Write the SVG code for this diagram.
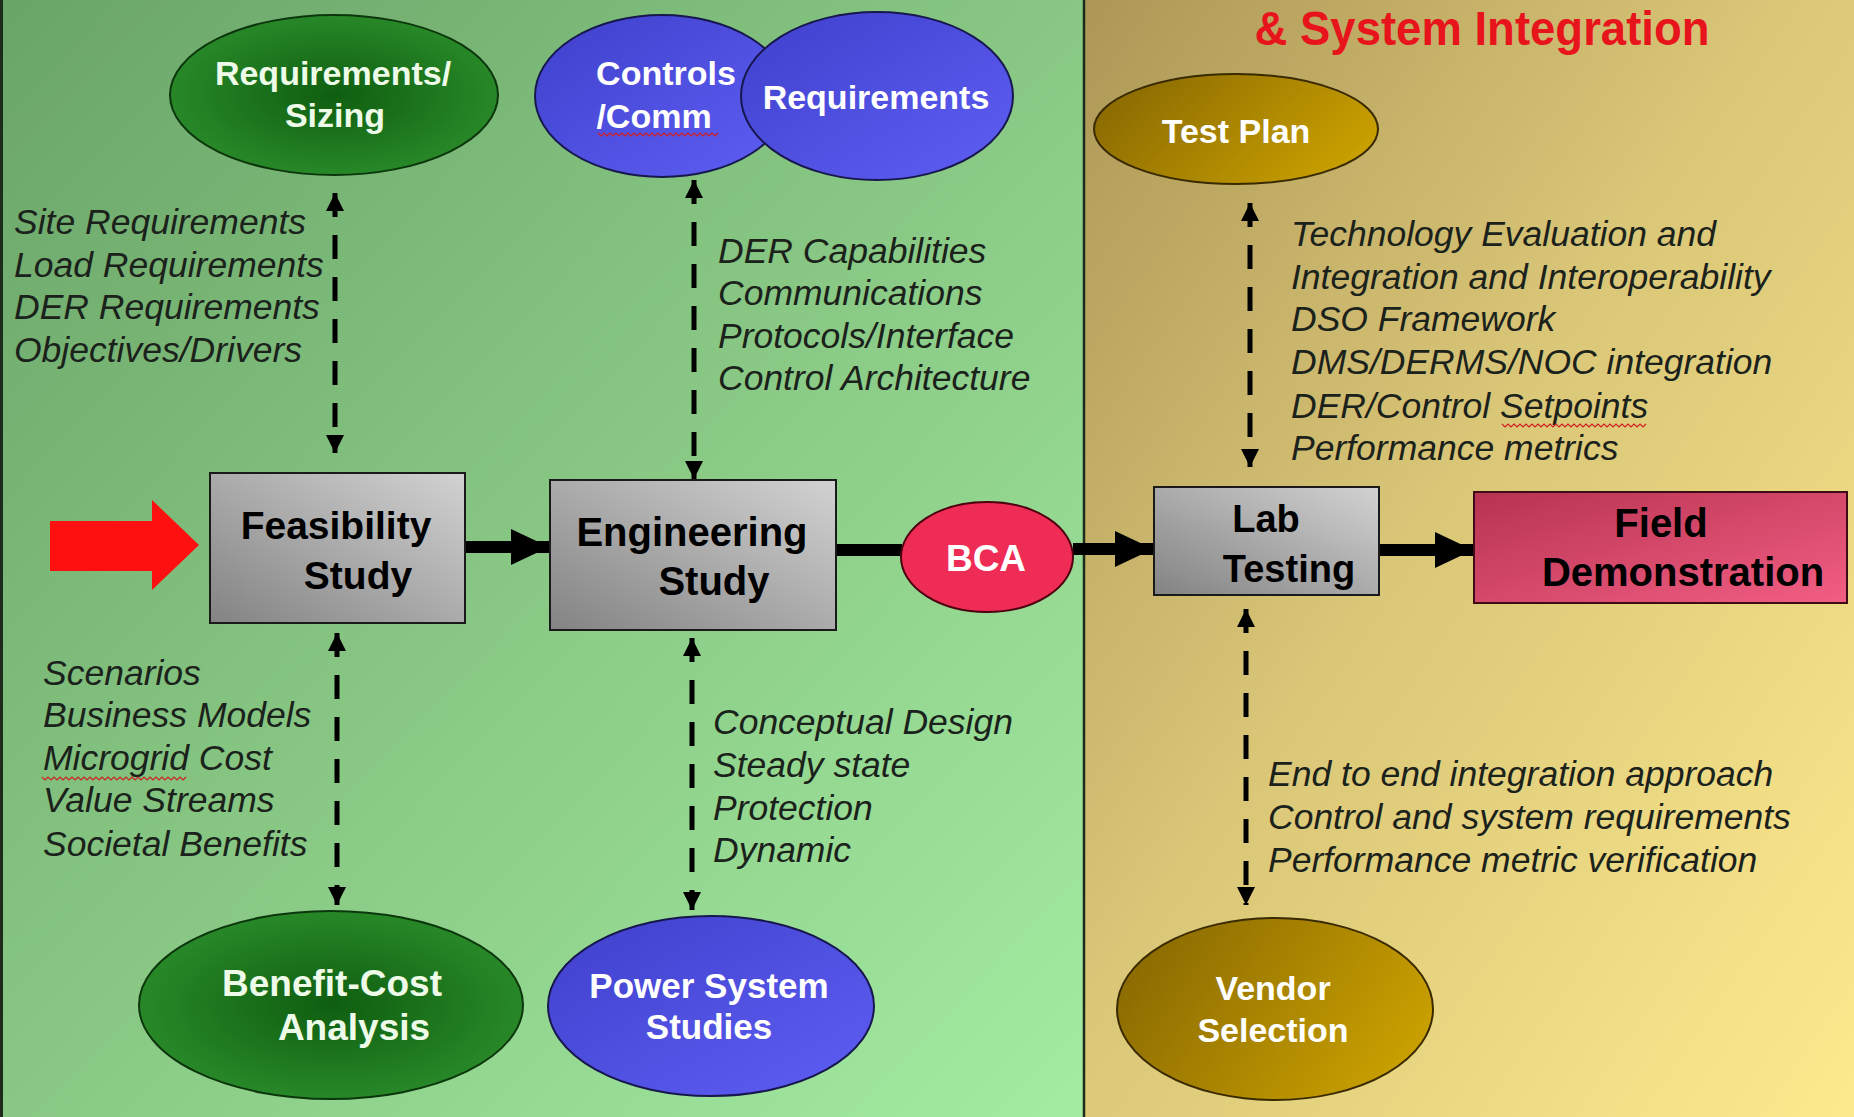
<svg xmlns="http://www.w3.org/2000/svg" width="1854" height="1117" viewBox="0 0 1854 1117">
  <defs>
    <linearGradient id="bgLeft" x1="0" y1="0" x2="1" y2="1">
      <stop offset="0" stop-color="#6aa568"/>
      <stop offset="0.5" stop-color="#88c884"/>
      <stop offset="1" stop-color="#a4eca2"/>
    </linearGradient>
    <linearGradient id="bgRight" x1="0" y1="0" x2="1" y2="1">
      <stop offset="0" stop-color="#ad9757"/>
      <stop offset="0.45" stop-color="#d9c677"/>
      <stop offset="1" stop-color="#fdea8e"/>
    </linearGradient>
    <radialGradient id="green" cx="0.5" cy="0.5" r="0.55">
      <stop offset="0" stop-color="#0f5e10"/>
      <stop offset="1" stop-color="#2a8c2a"/>
    </radialGradient>
    <linearGradient id="blue" x1="0" y1="0" x2="1" y2="1">
      <stop offset="0" stop-color="#4040cc"/>
      <stop offset="1" stop-color="#5e5ef4"/>
    </linearGradient>
    <linearGradient id="gold" x1="0" y1="0.3" x2="1" y2="0.7">
      <stop offset="0" stop-color="#8a6a02"/>
      <stop offset="1" stop-color="#cca200"/>
    </linearGradient>
    <linearGradient id="grey" x1="0" y1="1" x2="1" y2="0">
      <stop offset="0" stop-color="#838383"/>
      <stop offset="1" stop-color="#d2d2d2"/>
    </linearGradient>
    <linearGradient id="pink" x1="0" y1="0" x2="1" y2="1">
      <stop offset="0" stop-color="#b73350"/>
      <stop offset="1" stop-color="#f25e84"/>
    </linearGradient>
    <marker id="tip" viewBox="0 0 10 10" refX="10" refY="5" markerWidth="18" markerHeight="18" markerUnits="userSpaceOnUse" orient="auto-start-reverse">
      <path d="M0,0 L10,5 L0,10 Z" fill="#000"/>
    </marker>
    <marker id="bigTip" viewBox="0 0 10 10" refX="10" refY="5" markerWidth="38" markerHeight="36" markerUnits="userSpaceOnUse" orient="auto" preserveAspectRatio="none">
      <path d="M0,0 L10,5 L0,10 Z" fill="#000"/>
    </marker>
    <style>
      .lbl { font-family: "Liberation Sans", Arial, sans-serif; font-weight: bold; text-anchor: middle; }
      .w { fill: #ffffff; }
      .wg { fill: #eefbe8; }
      .k { fill: #000000; }
      .note { font-family: "Liberation Sans", Arial, sans-serif; font-style: italic; font-size: 35.5px; fill: #1b221b; }
      .dash { stroke: #000; stroke-width: 5; fill: none; stroke-dasharray: 24 18; marker-start: url(#tip); marker-end: url(#tip); }
      .flow { stroke: #000; stroke-width: 12; fill: none; }
      .edge { stroke-width: 2; }
      .spell { stroke: #d02020; stroke-width: 1.2; fill: none; }
    </style>
  </defs>

  <!-- background panels -->
  <rect x="0" y="0" width="1084" height="1117" fill="url(#bgLeft)"/>
  <rect x="1084" y="0" width="770" height="1117" fill="url(#bgRight)"/>
  <line x1="1.5" y1="0" x2="1.5" y2="1117" stroke="#1d2b1d" stroke-width="3"/>
  <line x1="1084" y1="0" x2="1084" y2="1117" stroke="#1d2b1d" stroke-width="2.5"/>

  <text x="1482" y="45" class="lbl" font-size="48" fill="#e8141c" textLength="455" lengthAdjust="spacingAndGlyphs">&amp; System Integration</text>

  <!-- connectors -->
  <g id="connectors">
    <polygon points="50,521 152,521 152,500 199,545 152,590 152,571 50,571" fill="#ff1010"/>
    <line class="flow" x1="465" y1="547" x2="549" y2="547" marker-end="url(#bigTip)"/>
    <line class="flow" x1="836" y1="550" x2="902" y2="550"/>
    <line class="flow" x1="1073" y1="549" x2="1153" y2="549" marker-end="url(#bigTip)"/>
    <line class="flow" x1="1379" y1="550" x2="1473" y2="550" marker-end="url(#bigTip)"/>

    <line class="dash" x1="335" y1="193" x2="335" y2="453"/>
    <line class="dash" x1="694" y1="180" x2="694" y2="479"/>
    <line class="dash" x1="337" y1="633" x2="337" y2="905"/>
    <line class="dash" x1="692" y1="638" x2="692" y2="910"/>
    <line class="dash" x1="1250" y1="203" x2="1250" y2="467"/>
    <line class="dash" x1="1246" y1="609" x2="1246" y2="905"/>
  </g>

  <!-- side notes -->
  <g id="notes-sizing">
    <text class="note" x="14" y="234">Site Requirements</text>
    <text class="note" x="14" y="277">Load Requirements</text>
    <text class="note" x="14" y="319">DER Requirements</text>
    <text class="note" x="14" y="362">Objectives/Drivers</text>
  </g>
  <g id="notes-controls">
    <text class="note" x="718" y="263">DER Capabilities</text>
    <text class="note" x="718" y="305">Communications</text>
    <text class="note" x="718" y="348">Protocols/Interface</text>
    <text class="note" x="718" y="390">Control Architecture</text>
  </g>
  <g id="notes-testplan">
    <text class="note" x="1291" y="246">Technology Evaluation and</text>
    <text class="note" x="1291" y="289">Integration and Interoperability</text>
    <text class="note" x="1291" y="331">DSO Framework</text>
    <text class="note" x="1291" y="374">DMS/DERMS/NOC integration</text>
    <text class="note" x="1291" y="418">DER/Control Setpoints</text>
    <text class="note" x="1291" y="460">Performance metrics</text>
    <path class="spell" d="M1502,424 l3,3 l3,-3 l3,3 l3,-3 l3,3 l3,-3 l3,3 l3,-3 l3,3 l3,-3 l3,3 l3,-3 l3,3 l3,-3 l3,3 l3,-3 l3,3 l3,-3 l3,3 l3,-3 l3,3 l3,-3 l3,3 l3,-3 l3,3 l3,-3 l3,3 l3,-3 l3,3 l3,-3 l3,3 l3,-3 l3,3 l3,-3 l3,3 l3,-3 l3,3 l3,-3 l3,3 l3,-3 l3,3 l3,-3 l3,3 l3,-3 l3,3 l3,-3 l3,3 l3,-3"/>
  </g>
  <g id="notes-bca">
    <text class="note" x="43" y="685">Scenarios</text>
    <text class="note" x="43" y="727">Business Models</text>
    <text class="note" x="43" y="770">Microgrid Cost</text>
    <text class="note" x="43" y="812">Value Streams</text>
    <text class="note" x="43" y="856">Societal Benefits</text>
    <path class="spell" d="M42,777 l3,3 l3,-3 l3,3 l3,-3 l3,3 l3,-3 l3,3 l3,-3 l3,3 l3,-3 l3,3 l3,-3 l3,3 l3,-3 l3,3 l3,-3 l3,3 l3,-3 l3,3 l3,-3 l3,3 l3,-3 l3,3 l3,-3 l3,3 l3,-3 l3,3 l3,-3 l3,3 l3,-3 l3,3 l3,-3 l3,3 l3,-3 l3,3 l3,-3 l3,3 l3,-3 l3,3 l3,-3 l3,3 l3,-3 l3,3 l3,-3 l3,3 l3,-3 l3,3 l3,-3"/>
  </g>
  <g id="notes-power">
    <text class="note" x="713" y="734">Conceptual Design</text>
    <text class="note" x="713" y="777">Steady state</text>
    <text class="note" x="713" y="820">Protection</text>
    <text class="note" x="713" y="862">Dynamic</text>
  </g>
  <g id="notes-vendor">
    <text class="note" x="1268" y="786">End to end integration approach</text>
    <text class="note" x="1268" y="829">Control and system requirements</text>
    <text class="note" x="1268" y="872">Performance metric verification</text>
  </g>

  <!-- nodes -->
  <g id="node-requirements-sizing">
    <ellipse cx="334" cy="95" rx="164" ry="80" fill="url(#green)" stroke="#0c360c" class="edge"/>
    <text class="lbl wg" font-size="34" x="333" y="85">Requirements/</text>
    <text class="lbl wg" font-size="34" x="335" y="127">Sizing</text>
  </g>
  <g id="node-controls-comm">
    <ellipse cx="662" cy="96" rx="127" ry="81" fill="url(#blue)" stroke="#17174e" class="edge"/>
    <text class="lbl w" font-size="34" x="666" y="85">Controls</text>
    <text class="lbl w" font-size="34" x="654" y="128">/Comm</text>
    <path class="spell" d="M598,133 l3,3 l3,-3 l3,3 l3,-3 l3,3 l3,-3 l3,3 l3,-3 l3,3 l3,-3 l3,3 l3,-3 l3,3 l3,-3 l3,3 l3,-3 l3,3 l3,-3 l3,3 l3,-3 l3,3 l3,-3 l3,3 l3,-3 l3,3 l3,-3 l3,3 l3,-3 l3,3 l3,-3 l3,3 l3,-3 l3,3 l3,-3 l3,3 l3,-3 l3,3 l3,-3 l3,3 l3,-3"/>
  </g>
  <g id="node-requirements">
    <ellipse cx="877" cy="96" rx="136" ry="84" fill="url(#blue)" stroke="#17174e" class="edge"/>
    <text class="lbl w" font-size="34" x="876" y="109">Requirements</text>
  </g>
  <g id="node-test-plan">
    <ellipse cx="1236" cy="129" rx="142" ry="55" fill="url(#gold)" stroke="#3a2a00" class="edge"/>
    <text class="lbl w" font-size="34" x="1236" y="143">Test Plan</text>
  </g>
  <g id="node-feasibility">
    <rect x="210" y="473" width="255" height="150" fill="url(#grey)" stroke="#1a1a1a" class="edge"/>
    <text class="lbl k" font-size="39" x="336" y="539">Feasibility</text>
    <text class="lbl k" font-size="39" x="358" y="589">Study</text>
  </g>
  <g id="node-engineering">
    <rect x="550" y="480" width="286" height="150" fill="url(#grey)" stroke="#1a1a1a" class="edge"/>
    <text class="lbl k" font-size="40" x="692" y="546">Engineering</text>
    <text class="lbl k" font-size="40" x="714" y="595">Study</text>
  </g>
  <g id="node-bca">
    <ellipse cx="987" cy="557" rx="86" ry="55" fill="#ef2c55" stroke="#4e0010" class="edge"/>
    <text class="lbl w" font-size="37" x="986" y="571">BCA</text>
  </g>
  <g id="node-lab-testing">
    <rect x="1154" y="487" width="225" height="108" fill="url(#grey)" stroke="#1a1a1a" class="edge"/>
    <text class="lbl k" font-size="38" x="1266" y="532">Lab</text>
    <text class="lbl k" font-size="38" x="1289" y="582">Testing</text>
  </g>
  <g id="node-field-demo">
    <rect x="1474" y="492" width="373" height="111" fill="url(#pink)" stroke="#3e0a16" class="edge"/>
    <text class="lbl k" font-size="40" x="1661" y="537">Field</text>
    <text class="lbl k" font-size="40" x="1683" y="586">Demonstration</text>
  </g>
  <g id="node-benefit-cost">
    <ellipse cx="331" cy="1005" rx="192" ry="94" fill="url(#green)" stroke="#0c360c" class="edge"/>
    <text class="lbl wg" font-size="37" x="332" y="996">Benefit-Cost</text>
    <text class="lbl wg" font-size="37" x="354" y="1040">Analysis</text>
  </g>
  <g id="node-power-system">
    <ellipse cx="711" cy="1006" rx="163" ry="90" fill="url(#blue)" stroke="#17174e" class="edge"/>
    <text class="lbl w" font-size="35" x="709" y="998">Power System</text>
    <text class="lbl w" font-size="35" x="709" y="1039">Studies</text>
  </g>
  <g id="node-vendor">
    <ellipse cx="1275" cy="1009" rx="158" ry="91" fill="url(#gold)" stroke="#3a2a00" class="edge"/>
    <text class="lbl w" font-size="34" x="1273" y="1000">Vendor</text>
    <text class="lbl w" font-size="34" x="1273" y="1042">Selection</text>
  </g>
</svg>
